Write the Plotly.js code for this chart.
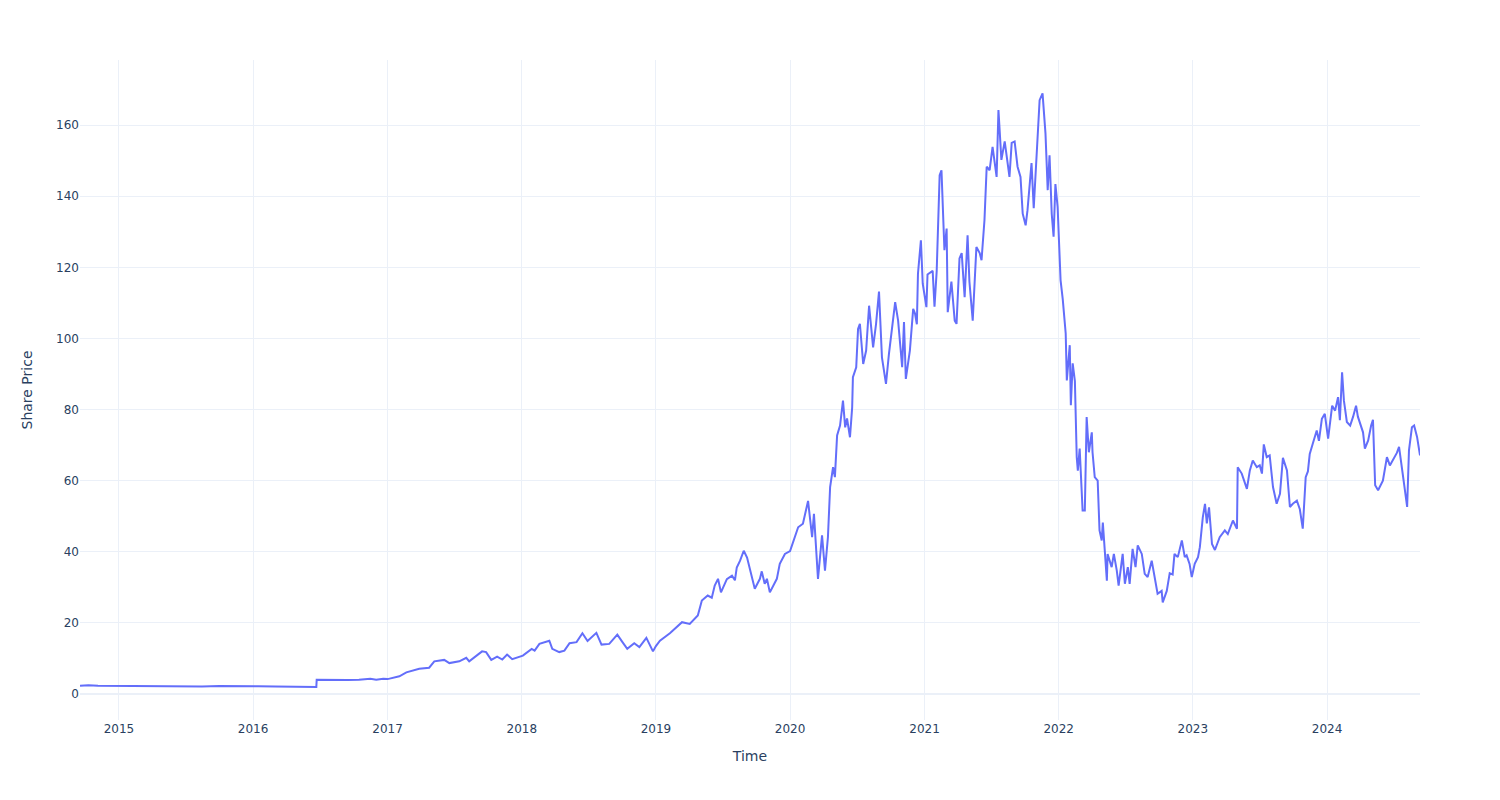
<!DOCTYPE html>
<html>
<head>
<meta charset="utf-8">
<script src="https://cdn.plot.ly/plotly-3.0.1.min.js"></script>
<style>html,body{margin:0;padding:0;background:#fff;}#chart{width:1500px;height:800px;}</style>
</head>
<body>
<div id="chart"></div>
<script>
const dates = [
"2014-09-17","2014-10-10","2014-11-05","2014-12-15","2015-02-15","2015-04-15","2015-06-15","2015-08-15","2015-10-01","2015-11-15",
"2016-01-15","2016-03-01","2016-04-15","2016-06-21","2016-06-22","2016-08-01","2016-09-15","2016-10-15","2016-11-15","2016-12-01","2016-12-20",
"2017-01-01","2017-02-02","2017-02-21","2017-03-28","2017-04-24","2017-05-08","2017-06-04","2017-06-18","2017-07-15","2017-08-03","2017-08-11",
"2017-09-15","2017-09-26","2017-10-10","2017-10-26","2017-11-09","2017-11-22","2017-12-06",
"2018-01-04","2018-01-28","2018-02-05","2018-02-18","2018-03-17","2018-03-25","2018-04-13","2018-04-27","2018-05-11","2018-05-30","2018-06-15",
"2018-06-29","2018-07-23","2018-08-06","2018-08-27","2018-09-18","2018-10-02","2018-10-15","2018-11-03","2018-11-17","2018-12-06","2018-12-24",
"2019-01-01","2019-01-12","2019-02-08","2019-03-13","2019-04-03","2019-04-25","2019-05-06","2019-05-22","2019-06-02","2019-06-10","2019-06-19",
"2019-06-27","2019-07-13","2019-07-27","2019-08-04","2019-08-09","2019-08-18","2019-08-28","2019-09-06","2019-09-14","2019-09-27","2019-10-11",
"2019-10-16","2019-10-24","2019-10-30","2019-11-07","2019-11-26","2019-12-04","2019-12-18",
"2020-01-01","2020-01-09","2020-01-20","2020-01-23","2020-02-05","2020-02-16","2020-02-19","2020-03-01","2020-03-06","2020-03-17","2020-03-28",
"2020-04-05","2020-04-13","2020-04-19","2020-04-27","2020-05-02","2020-05-08","2020-05-16","2020-05-24","2020-05-30","2020-06-04","2020-06-12",
"2020-06-18","2020-06-20","2020-06-29","2020-07-04","2020-07-09","2020-07-18","2020-07-26","2020-08-03","2020-08-14","2020-08-22","2020-08-30",
"2020-09-07","2020-09-18","2020-09-26","2020-10-13","2020-10-21","2020-11-01","2020-11-06","2020-11-11","2020-11-22","2020-12-01","2020-12-06",
"2020-12-11","2020-12-14","2020-12-22","2020-12-27",
"2021-01-06","2021-01-09","2021-01-23","2021-01-28","2021-02-03","2021-02-11","2021-02-16","2021-02-24","2021-03-02","2021-03-05","2021-03-15",
"2021-03-24","2021-03-29","2021-04-06","2021-04-12","2021-04-20","2021-04-28","2021-05-03","2021-05-12","2021-05-22","2021-05-31","2021-06-05",
"2021-06-13","2021-06-19","2021-06-27","2021-07-05","2021-07-16","2021-07-21","2021-07-29","2021-08-07","2021-08-15","2021-08-20","2021-08-26",
"2021-09-03","2021-09-11","2021-09-19","2021-09-25","2021-10-03","2021-10-08","2021-10-19","2021-10-25","2021-11-02","2021-11-10","2021-11-18",
"2021-11-26","2021-12-02","2021-12-07","2021-12-13","2021-12-18","2021-12-23","2021-12-29",
"2022-01-06","2022-01-12","2022-01-20","2022-01-23","2022-01-31","2022-02-03","2022-02-08","2022-02-14","2022-02-19","2022-02-22","2022-02-27",
"2022-03-07","2022-03-13","2022-03-18","2022-03-24","2022-04-01","2022-04-03","2022-04-09","2022-04-17","2022-04-22","2022-04-28","2022-05-01",
"2022-05-12","2022-05-14","2022-05-25","2022-05-31","2022-06-08","2022-06-13","2022-06-24","2022-06-30","2022-07-08","2022-07-13","2022-07-21",
"2022-07-29","2022-08-04","2022-08-15","2022-08-23","2022-08-31","2022-09-11","2022-09-19","2022-09-27","2022-10-08","2022-10-11","2022-10-22",
"2022-10-30","2022-11-07","2022-11-12","2022-11-21","2022-12-02","2022-12-10","2022-12-15","2022-12-23","2022-12-29",
"2023-01-06","2023-01-15","2023-01-20","2023-01-28","2023-02-03","2023-02-08","2023-02-14","2023-02-22","2023-03-02","2023-03-15","2023-03-29",
"2023-04-06","2023-04-20","2023-05-01","2023-05-03","2023-05-14","2023-05-28","2023-06-05","2023-06-13","2023-06-24","2023-07-02","2023-07-08",
"2023-07-13","2023-07-21","2023-07-29","2023-08-07","2023-08-17","2023-08-26","2023-09-03","2023-09-14","2023-09-22","2023-09-30","2023-10-11",
"2023-10-19","2023-10-27","2023-11-04","2023-11-10","2023-11-15","2023-11-23","2023-12-04","2023-12-10","2023-12-18","2023-12-26",
"2024-01-04","2024-01-15","2024-01-23","2024-01-31","2024-02-05","2024-02-11","2024-02-16","2024-02-24","2024-03-04","2024-03-12","2024-03-20",
"2024-03-25","2024-04-08","2024-04-13","2024-04-22","2024-04-30","2024-05-05","2024-05-11","2024-05-19","2024-06-01","2024-06-12","2024-06-20",
"2024-06-29","2024-07-09","2024-07-15","2024-07-23","2024-07-28","2024-08-06","2024-08-11","2024-08-19","2024-08-25","2024-09-02","2024-09-10"
];
const prices = [
2.3,2.45,2.3,2.25,2.2,2.15,2.2,2.15,2.25,2.15,
2.2,2.15,2.05,2.0,4.0,3.9,3.95,4.0,4.3,4.0,4.3,
4.2,5.0,6.1,7.1,7.4,9.2,9.6,8.7,9.2,10.2,9.2,
12.0,11.8,9.6,10.5,9.7,11.1,9.8,
10.8,12.7,12.2,14.1,15.0,12.7,11.8,12.2,14.3,14.6,17.1,
14.9,17.2,13.9,14.1,16.7,14.6,12.7,14.3,13.2,15.8,12.0,
13.5,15.0,17.1,20.2,19.7,22.1,26.3,27.7,27.1,30.5,32.4,
28.6,32.3,33.3,32.0,35.6,37.5,40.3,38.4,34.9,29.6,32.4,
34.5,31.0,32.4,28.6,32.4,36.6,39.4,
40.2,42.7,46.0,46.9,47.9,53.5,54.3,44.1,50.7,32.4,44.6,
34.7,44.1,58.2,63.8,61.0,72.7,75.5,82.5,75.0,77.5,72.2,
80.6,89.1,91.9,102.7,104.1,92.8,96.6,109.2,97.5,104.1,113.2,
94.7,87.2,95.6,110.2,105.0,91.9,104.6,88.6,96.6,108.3,107.0,
104.0,118.2,127.6,115.4,
108.8,118.0,119.0,108.9,119.0,145.9,147.3,124.8,130.9,107.4,116.0,
105.0,104.1,122.5,124.0,111.6,129.0,116.0,105.0,125.7,124.0,122.0,
133.3,148.3,147.3,153.9,145.4,164.2,150.2,155.4,150.0,145.4,155.0,
155.4,148.3,145.4,135.1,131.8,136.0,149.3,136.6,153.9,167.0,168.9,
157.6,141.7,151.5,135.0,128.6,143.4,137.0,
116.4,111.0,101.4,88.2,98.1,81.2,93.0,88.0,66.6,62.8,69.0,
51.6,51.6,77.9,68.0,73.6,68.0,61.0,60.0,46.0,43.2,48.2,
31.9,39.4,35.7,39.4,34.7,30.5,39.4,31.0,35.7,31.0,40.8,
35.7,41.8,39.4,33.8,32.9,37.5,32.9,28.2,29.0,25.8,29.0,
34.0,33.6,39.4,38.5,43.2,38.5,39.0,36.6,32.9,
36.6,38.5,41.3,49.7,53.5,48.0,52.5,42.2,40.5,44.1,46.0,
45.0,48.8,46.5,63.8,62.0,57.7,62.9,65.7,63.8,64.3,62.0,
70.2,66.6,67.1,58.2,53.5,56.3,66.4,62.9,52.6,53.5,54.4,
52.0,46.5,61.0,62.6,67.5,70.3,74.1,71.2,77.4,78.8,
71.8,81.1,79.7,83.5,77.0,90.5,82.5,76.5,75.5,78.0,81.1,
78.0,73.6,69.0,71.3,75.5,77.1,58.7,57.3,60.0,66.6,64.3,
66.0,67.8,69.5,62.4,59.6,52.6,68.5,75.0,75.5,72.3,67.1
];

const trace = {
  x: dates, y: prices, type: 'scatter', mode: 'lines',
  line: {color: '#636efa', width: 2}
};
const axisCommon = {
  gridcolor: '#EBF0F8', zerolinecolor: '#EBF0F8', zerolinewidth: 2,
  linecolor: '#EBF0F8', showline: false, ticks: '', automargin: true,
  tickfont: {size: 12, color: '#2a3f5f'}
};
const layout = {
  width: 1500, height: 800,
  margin: {l: 80, r: 80, t: 60, b: 80},
  paper_bgcolor: '#ffffff', plot_bgcolor: '#ffffff',
  font: {family: '"DejaVu Sans", Verdana, sans-serif', color: '#2a3f5f', size: 12},
  showlegend: false,
  xaxis: Object.assign({}, axisCommon, {
    type: 'date', range: ['2014-09-17', '2024-09-10'],
    title: {text: 'Time', font: {size: 14}, standoff: 16}
  }),
  yaxis: Object.assign({}, axisCommon, {
    range: [-7.3, 178.3], dtick: 20,
    title: {text: 'Share Price', font: {size: 14}, standoff: 20}
  })
};
Plotly.newPlot('chart', [trace], layout, {displayModeBar: false});
</script>
</body>
</html>
